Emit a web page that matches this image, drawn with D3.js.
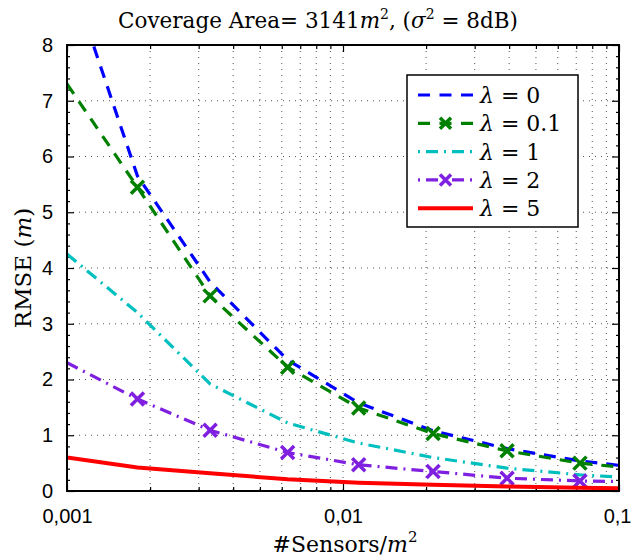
<!DOCTYPE html>
<html><head><meta charset="utf-8">
<script src="https://cdn.jsdelivr.net/npm/d3@7"></script>
<style>body{margin:0;background:#fff;} svg{display:block;}</style>
</head><body>
<svg id="c" width="631" height="560"></svg>
<script>
// ---- data ----
const density = [0.001, 0.0018, 0.0033, 0.0063, 0.0114, 0.0212, 0.0393, 0.0722, 0.1];
const markerIdx = [1, 2, 3, 4, 5, 6, 7];
const rmseL0   = [9.4, 5.65, 3.75, 2.35, 1.58, 1.08, 0.76, 0.54, 0.46];
const rmseL01  = [7.3, 5.45, 3.5, 2.22, 1.49, 1.03, 0.72, 0.50, 0.43];
const rmseL1   = [4.25, 3.2, 1.92, 1.22, 0.86, 0.6, 0.41, 0.29, 0.25];
const rmseL2   = [2.3, 1.65, 1.09, 0.69, 0.47, 0.35, 0.23, 0.18, 0.17];
const rmseL5   = [0.6, 0.42, 0.32, 0.21, 0.15, 0.11, 0.08, 0.06, 0.05];
const lambdas  = ["0", "0.1", "1", "2", "5"];
const xTicks = [0.001, 0.01, 0.1];
const xTickLabels = ["0,001", "0,01", "0,1"];
const yTicks = [0,1,2,3,4,5,6,7,8];

const series = [
  {vals: rmseL0,  color:"#0000ff", dash:"12,9",          width:3.2, marker:false},
  {vals: rmseL01, color:"#008000", dash:"12,9",          width:3.2, marker:true},
  {vals: rmseL1,  color:"#00bfbf", dash:"12,6,2,6",      width:3.2, marker:false},
  {vals: rmseL2,  color:"#7f1fe0", dash:"12,6,2,6",      width:3.2, marker:true},
  {vals: rmseL5,  color:"#ff0000", dash:null,            width:4,   marker:false}
];

const L = 67, R = 619, T = 45, B = 491;
const svg = d3.select("#c");
const x = d3.scaleLog().domain([0.001, 0.1]).range([L, R]);
const y = d3.scaleLinear().domain([0, 8]).range([B, T]);

const serif = "'DejaVu Serif', serif";
const sans = "'Liberation Sans', Arial, sans-serif";

// grid
const minorX = [];
[0.001, 0.01].forEach(d => { for (let k = 2; k <= 9; k++) minorX.push(d*k); });
const gridX = xTicks.concat(minorX).filter(v => v > 0.001 && v < 0.1);
const g = svg.append("g");
g.selectAll(".gx").data(gridX).enter().append("line")
  .attr("x1", d => x(d)).attr("x2", d => x(d)).attr("y1", T).attr("y2", B)
  .attr("stroke", "#555").attr("stroke-width", 1).attr("stroke-dasharray", "1,5");
g.selectAll(".gy").data(yTicks.filter(v => v > 0 && v < 8)).enter().append("line")
  .attr("x1", L).attr("x2", R).attr("y1", d => y(d)).attr("y2", d => y(d))
  .attr("stroke", "#555").attr("stroke-width", 1).attr("stroke-dasharray", "1,5");

// axes ticks (inside)
const axB = d3.axisBottom(x).tickValues(xTicks).tickFormat((d,i) => xTickLabels[i]).tickSizeInner(-7).tickSizeOuter(0).tickPadding(18);
const axBm = d3.axisBottom(x).tickValues(minorX).tickFormat("").tickSizeInner(-4).tickSizeOuter(0);
const axT = d3.axisTop(x).tickValues(xTicks).tickFormat("").tickSizeInner(-7).tickSizeOuter(0);
const axTm = d3.axisTop(x).tickValues(minorX).tickFormat("").tickSizeInner(-4).tickSizeOuter(0);
const minorY = d3.range(0, 8.001, 0.2).filter(v => Math.abs(v - Math.round(v)) > 1e-6);
const axL = d3.axisLeft(y).tickValues(yTicks).tickFormat(d3.format("d")).tickSizeInner(-7).tickSizeOuter(0).tickPadding(14);
const axLm = d3.axisLeft(y).tickValues(minorY).tickFormat("").tickSizeInner(-3).tickSizeOuter(0);
const axR = d3.axisRight(y).tickValues(yTicks).tickFormat("").tickSizeInner(-7).tickSizeOuter(0);
const axRm = d3.axisRight(y).tickValues(minorY).tickFormat("").tickSizeInner(-3).tickSizeOuter(0);

function styleAxis(sel){
  sel.select(".domain").remove();
  sel.selectAll("line").attr("stroke", "#000").attr("stroke-width", 1.2);
  sel.selectAll("text").attr("font-family", sans).attr("font-size", 20).attr("fill", "#000");
}
const gB = svg.append("g").attr("transform", `translate(0,${B})`).call(axB).call(styleAxis);
gB.selectAll("text").filter(d => d === 0.1).attr("text-anchor", "end").attr("dx", 12);
svg.append("g").attr("transform", `translate(0,${B})`).call(axBm).call(styleAxis);
svg.append("g").attr("transform", `translate(0,${T})`).call(axT).call(styleAxis);
svg.append("g").attr("transform", `translate(0,${T})`).call(axTm).call(styleAxis);
svg.append("g").attr("transform", `translate(${L},0)`).call(axL).call(styleAxis);
svg.append("g").attr("transform", `translate(${L},0)`).call(axLm).call(styleAxis);
svg.append("g").attr("transform", `translate(${R},0)`).call(axR).call(styleAxis);
svg.append("g").attr("transform", `translate(${R},0)`).call(axRm).call(styleAxis);

// clip
svg.append("clipPath").attr("id", "clip").append("rect")
  .attr("x", L).attr("y", T).attr("width", R - L).attr("height", B - T);
const plot = svg.append("g").attr("clip-path", "url(#clip)");

const line = d3.line().x((d,i) => x(density[i])).y(d => y(d));

function xMark(sel, cx, cy, color, s){
  sel.append("path")
    .attr("d", `M${cx-s},${cy-s}L${cx+s},${cy+s}M${cx-s},${cy+s}L${cx+s},${cy-s}`)
    .attr("stroke", color).attr("stroke-width", 3.5).attr("fill", "none");
}

series.forEach(s => {
  const p = plot.append("path").datum(s.vals).attr("d", line)
    .attr("fill", "none").attr("stroke", s.color).attr("stroke-width", s.width);
  if (s.dash) p.attr("stroke-dasharray", s.dash);
  if (s.marker) {
    markerIdx.forEach(i => xMark(plot, x(density[i]), y(s.vals[i]), s.color, 6.5));
  }
});

// frame
svg.append("rect").attr("x", L).attr("y", T).attr("width", R - L).attr("height", B - T)
  .attr("fill", "none").attr("stroke", "#000").attr("stroke-width", 2);

// title
const title = svg.append("text").attr("x", 318).attr("y", 28).attr("text-anchor", "middle")
  .attr("font-family", serif).attr("font-size", 21.5).attr("fill", "#000");
title.append("tspan").text("Coverage Area= 3141");
title.append("tspan").attr("font-style", "italic").text("m");
title.append("tspan").attr("font-size", 14).attr("dy", -9).text("2");
title.append("tspan").attr("dy", 9).text(", (");
title.append("tspan").attr("font-style", "italic").text("σ");
title.append("tspan").attr("font-size", 14).attr("dy", -9).text("2");
title.append("tspan").attr("dy", 9).text(" = 8dB)");

// x label
const xl = svg.append("text").attr("x", 345).attr("y", 552).attr("text-anchor", "middle")
  .attr("font-family", serif).attr("font-size", 22).attr("fill", "#000");
xl.append("tspan").text("#Sensors/");
xl.append("tspan").attr("font-style", "italic").text("m");
xl.append("tspan").attr("font-size", 15).attr("dy", -10).text("2");

// y label
const yl = svg.append("text").attr("transform", `translate(31,${(T+B)/2}) rotate(-90)`)
  .attr("text-anchor", "middle").attr("font-family", serif).attr("font-size", 23).attr("fill", "#000");
yl.append("tspan").text("RMSE (");
yl.append("tspan").attr("font-style", "italic").text("m");
yl.append("tspan").text(")");

// legend
const lg = svg.append("g");
lg.append("rect").attr("x", 407).attr("y", 75).attr("width", 171).attr("height", 152)
  .attr("fill", "#fff").attr("stroke", "#000").attr("stroke-width", 1.5);
series.forEach((s, i) => {
  const yy = 95 + i * 28.3;
  const ln = lg.append("line").attr("x1", 418).attr("x2", 473).attr("y1", yy).attr("y2", yy)
    .attr("stroke", s.color).attr("stroke-width", s.width);
  if (s.dash) ln.attr("stroke-dasharray", s.dash === "12,9" ? "12,9.5" : "2,6,12,6");
  if (s.marker) xMark(lg, 445.5, yy, s.color, 5.5);
  const t = lg.append("text").attr("x", 480).attr("y", yy + 8)
    .attr("font-family", serif).attr("font-size", 22).attr("fill", "#000");
  t.append("tspan").attr("font-style", "italic").text("λ");
  t.append("tspan").text(" = " + lambdas[i]);
});
</script>
</body></html>
